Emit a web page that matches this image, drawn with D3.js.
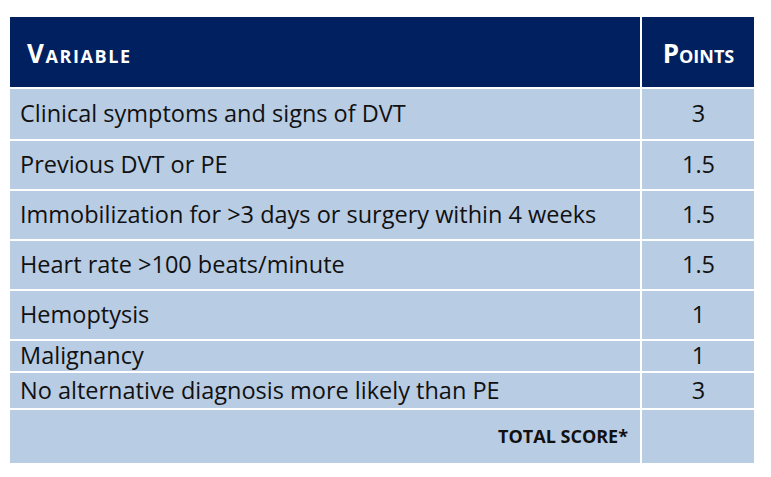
<!DOCTYPE html>
<html>
  <head>
    <meta charset="utf-8">
    <title>Wells score table</title>
    <script src="https://cdn.jsdelivr.net/npm/d3@7"></script>
    <style>
      body { margin: 0; background: #fff; }
      text { font-family: "Open Sans", "Noto Sans", sans-serif; }
    </style>
  </head>
  <body>
    <svg id="chart" width="771" height="477"></svg>
    <script>
      // data
      const headers = ["Variable", "Points"];
      const variables = [
        "Clinical symptoms and signs of DVT",
        "Previous DVT or PE",
        "Immobilization for >3 days or surgery within 4 weeks",
        "Heart rate >100 beats/minute",
        "Hemoptysis",
        "Malignancy",
        "No alternative diagnosis more likely than PE"
      ];
      const points = ["3", "1.5", "1.5", "1.5", "1", "1", "3"];
      const totalLabel = "TOTAL SCORE*";

      // layout
      const rowEdges = [17, 88, 140, 190, 240, 290, 340, 372, 409, 464];
      const left = 10, split = 641, right = 754;
      const navy = "#002060", pale = "#B8CCE4";

      const svg = d3.select("#chart");
      const rows = [{ v: headers[0], p: headers[1], head: true }]
        .concat(variables.map((v, i) => ({ v: v, p: points[i] })))
        .concat([{ v: totalLabel, p: "", total: true }]);

      const g = svg.selectAll("g.row").data(rows).join("g").attr("class", "row");

      g.each(function (d, i) {
        const y0 = rowEdges[i] + (i > 0 ? 1 : 0), y1 = rowEdges[i + 1] - 1;
        const sel = d3.select(this);
        const fill = d.head ? navy : pale;
        sel.append("rect").attr("x", left).attr("y", y0)
          .attr("width", split - left - 1).attr("height", y1 - y0).attr("fill", fill);
        sel.append("rect").attr("x", split + 1).attr("y", y0)
          .attr("width", right - split - 1).attr("height", y1 - y0).attr("fill", fill);
        const cy = (y0 + y1) / 2 + 2;
        if (d.head) {
          sel.append("text").attr("x", 27).attr("y", cy).attr("dy", "0.36em")
            .attr("fill", "#fff").attr("font-weight", "bold").attr("font-size", 26)
            .attr("textLength", 103).style("font-variant", "small-caps").text(d.v);
          sel.append("text").attr("x", (split + right) / 2 + 1).attr("y", cy).attr("dy", "0.36em")
            .attr("text-anchor", "middle").attr("fill", "#fff").attr("font-weight", "bold")
            .attr("font-size", 26).style("font-variant", "small-caps").text(d.p);
        } else if (d.total) {
          sel.append("text").attr("x", 628).attr("y", cy - 2).attr("dy", "0.36em")
            .attr("text-anchor", "end").attr("font-weight", "bold").attr("font-size", 18)
            .attr("fill", "#111").text(d.v);
        } else {
          sel.append("text").attr("x", 20).attr("y", cy - 2).attr("dy", "0.36em")
            .attr("font-size", 23.5).attr("fill", "#111").text(d.v);
          sel.append("text").attr("x", (split + right) / 2 + 1).attr("y", cy - 2).attr("dy", "0.36em")
            .attr("text-anchor", "middle").attr("font-size", 23.5).attr("fill", "#111").text(d.p);
        }
      });
    </script>
  </body>
</html>
